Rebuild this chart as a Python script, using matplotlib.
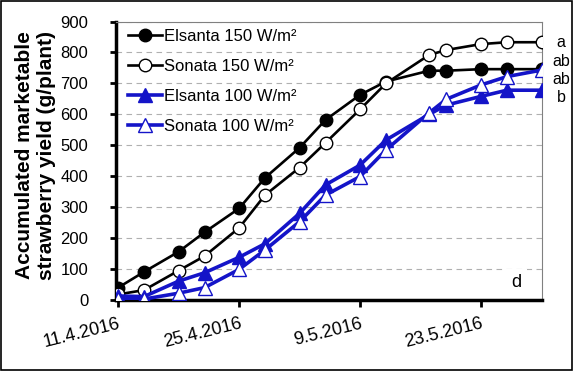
import matplotlib
matplotlib.use('Agg')
import matplotlib.pyplot as plt
import matplotlib.dates as mdates
import matplotlib.patches as patches
import datetime as dt

# measuring dates (2016)
dates = ['11.4', '14.4', '18.4', '21.4', '25.4', '28.4', '2.5', '5.5', '9.5',
         '12.5', '17.5', '19.5', '23.5', '26.5', '30.5']

# accumulated marketable yield (g/plant)
elsanta_150 = [40, 91, 156, 219, 296, 395, 492, 582, 663, 706, 741, 741, 746, 746, 746]
sonata_150 = [18, 32, 95, 142, 233, 339, 428, 508, 616, 700, 792, 808, 827, 833, 833]
elsanta_100 = [13, 11, 61, 88, 138, 182, 280, 372, 436, 517, 600, 630, 658, 678, 678]
sonata_100 = [2, 3, 22, 40, 99, 162, 253, 339, 399, 485, 605, 649, 695, 722, 743]

series_labels = ['Elsanta 150 W/m²', 'Sonata 150 W/m²', 'Elsanta 100 W/m²', 'Sonata 100 W/m²']
end_letters = ['a', 'ab', 'ab', 'b']
end_letter_y = [831, 770, 714, 656]
panel_letter = 'd'


def to_date(s):
    d, m = s.split('.')
    return dt.datetime(2016, int(m), int(d))


x = [to_date(s) for s in dates]

plt.rcParams['font.family'] = ['Liberation Sans', 'DejaVu Sans']

fig = plt.figure(figsize=(5.74, 3.71), dpi=100)
ax = fig.add_axes([116 / 574, 1 - 300 / 371, 425.5 / 574, 278.5 / 371])

blue = '#1414C8'
ax.plot(x, elsanta_150, color='black', lw=1.9, marker='o', ms=9,
        mfc='black', mec='black', label=series_labels[0], zorder=3)
ax.plot(x, sonata_150, color='black', lw=1.9, marker='o', ms=9,
        mfc='white', mec='black', mew=1.0, label=series_labels[1], zorder=4)
ax.plot(x, elsanta_100, color=blue, lw=2.6, marker='^', ms=9.5,
        mfc=blue, mec=blue, label=series_labels[2], zorder=5)
ax.plot(x, sonata_100, color=blue, lw=2.6, marker='^', ms=9.5,
        mfc='white', mec=blue, mew=1.0, label=series_labels[3], zorder=6)

# axes limits and ticks
x0 = to_date('11.4')
ax.set_xlim(x0 - dt.timedelta(hours=6), to_date('30.5'))
ax.set_ylim(0, 900)
ax.set_yticks(range(0, 1000, 100))
ax.set_xticks([to_date(s) for s in ['11.4', '25.4', '9.5', '23.5']])
ax.xaxis.set_major_formatter(mdates.DateFormatter('%-d.%-m.%Y'))

ax.tick_params(axis='y', direction='out', length=4, width=2, pad=16, labelsize=12)
ax.tick_params(axis='x', direction='out', length=5, width=2, pad=6, labelsize=13)
for lab in ax.get_xticklabels():
    lab.set_rotation(14)
    lab.set_ha('right')
    lab.set_va('top')
    lab.set_rotation_mode('anchor')

for side in ['left', 'bottom']:
    ax.spines[side].set_linewidth(2.5)
    ax.spines[side].set_color('black')
for side in ['top', 'right']:
    ax.spines[side].set_linewidth(0.8)
    ax.spines[side].set_color('#808080')

ax.grid(axis='y', linestyle=(0, (5, 4)), color='#b0b0b0', lw=0.8)
ax.set_axisbelow(True)

# legend without frame
ax.legend(loc='upper left', bbox_to_anchor=(0.028, 0.972), frameon=False,
          fontsize=12, handlelength=2.05, handletextpad=0.1, labelspacing=0.9,
          borderpad=0, borderaxespad=0)

# significance letters
for lt, ly in zip(end_letters, end_letter_y):
    ax.annotate(lt, xy=(1.046, ly), xycoords=('axes fraction', 'data'),
                ha='center', va='center', fontsize=11.5, annotation_clip=False)

ax.annotate(panel_letter, xy=(0.94, 55), xycoords=('axes fraction', 'data'),
            ha='center', va='center', fontsize=13,
            bbox=dict(facecolor='white', edgecolor='none', pad=4))

fig.text(36 / 574, 1 - 155 / 371, 'Accumulated marketable\nstrawberry yield (g/plant)',
         rotation=90, ha='center', va='center', fontsize=15, fontweight='bold')

# outer chart border
fig.patches.append(patches.Rectangle((0.002, 0.003), 0.995, 0.994, transform=fig.transFigure,
                                     fill=False, edgecolor='black', lw=1.2))

fig.savefig('out.png', dpi=100)
